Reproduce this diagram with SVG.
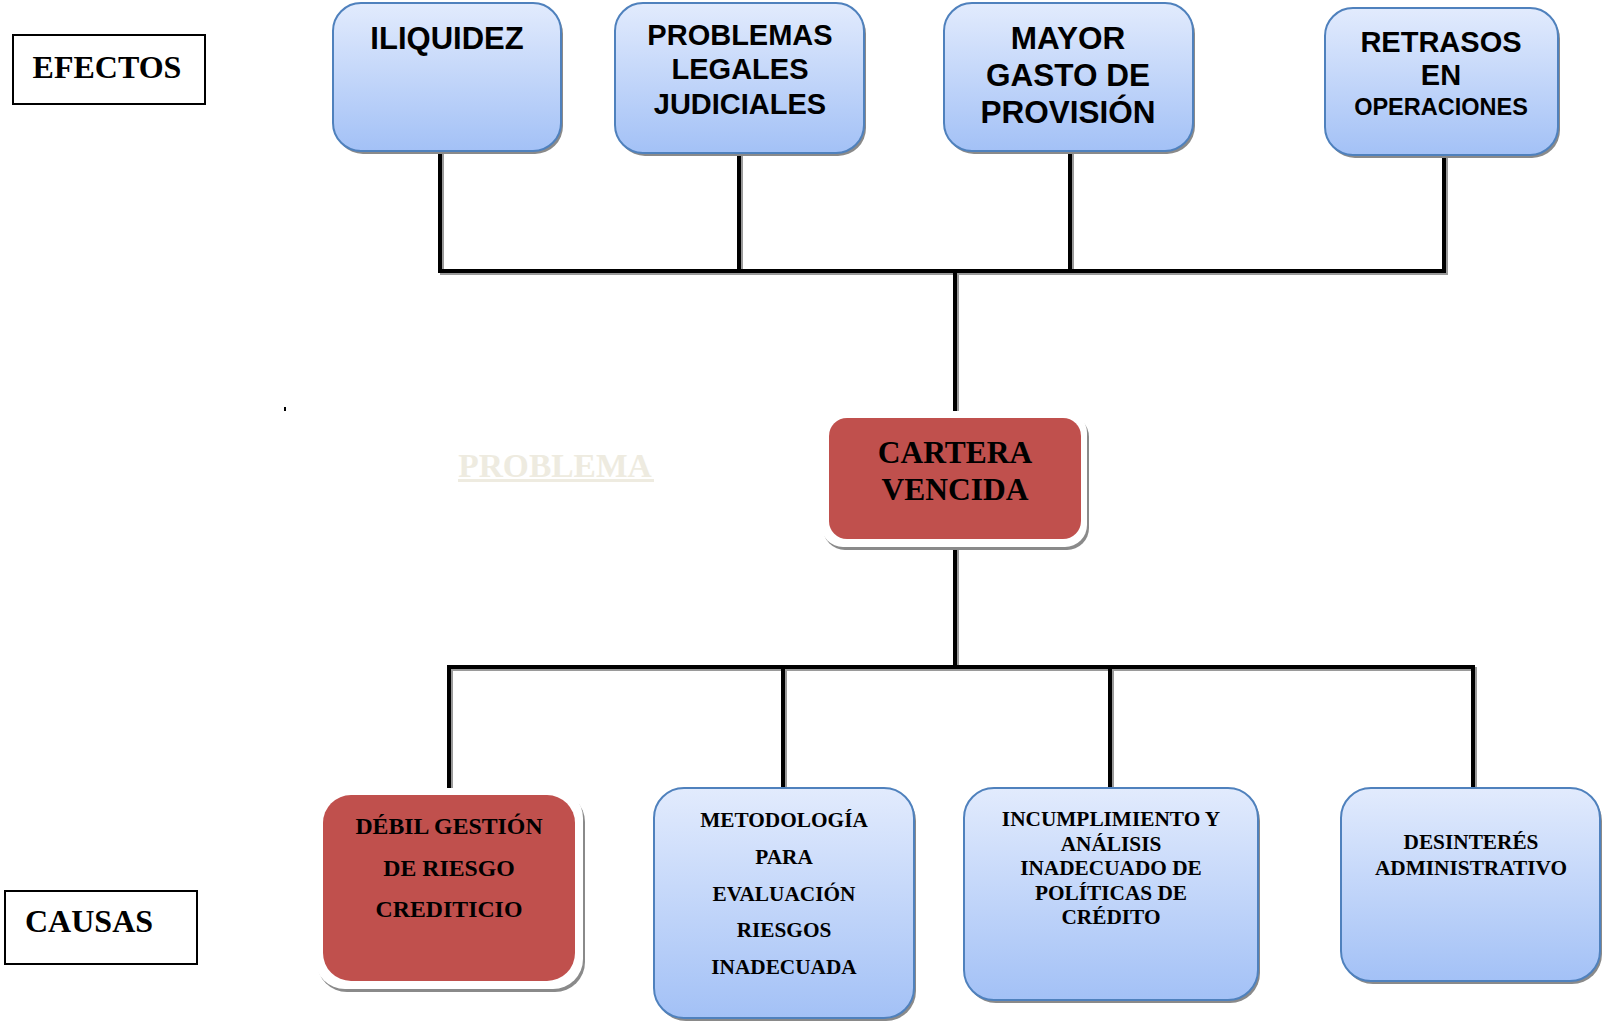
<svg xmlns="http://www.w3.org/2000/svg" width="1605" height="1022" viewBox="0 0 1605 1022">
<defs>
<linearGradient id="blue" x1="0" y1="0" x2="0" y2="1">
<stop offset="0" stop-color="#E2EBFD"/>
<stop offset="1" stop-color="#A3C1F6"/>
</linearGradient>
<style>
.bx{fill:url(#blue);stroke:#4F81BD;stroke-width:2}
.sh{fill:#8a8a8a}
.red{fill:#C0504D}
.wb{fill:#ffffff}
.lbl{fill:#fff;stroke:#000;stroke-width:2}
.ta{font-family:"Liberation Sans",Arial,sans-serif;font-weight:bold;fill:#000;text-anchor:middle}
.tt{font-family:"Liberation Serif","Times New Roman",serif;font-weight:bold;fill:#000;text-anchor:middle}
.ln{stroke:#000;stroke-width:4;fill:none;stroke-linecap:square}
.lns{stroke:#9a9a9a;stroke-width:4;fill:none;stroke-linecap:square}
</style>
</defs>
<rect width="1605" height="1022" fill="#fff"/>

<g id="connectors">
<path class="lns" d="M442 154V273M741 156V273M1072 154V273M1446 158V273M442 273H1446M957 273V420"/>
<path class="ln" d="M440 152V271M739 154V271M1070 152V271M1444 156V271M440 271H1444M955 271V418"/>
<path class="lns" d="M957 550V669M451 669H1475M451 669V797M785 669V790M1112 669V790M1475 669V790"/>
<path class="ln" d="M955 548V667M449 667H1473M449 667V795M783 667V788M1110 667V788M1473 667V788"/>
</g>

<g id="efectos">
<rect class="lbl" x="13" y="35" width="192" height="69"/>
<text class="tt" x="107" y="78" font-size="32">EFECTOS</text>
</g>

<g id="causas">
<rect class="lbl" x="5" y="891" width="192" height="73"/>
<text class="tt" x="25" y="932" font-size="32" style="text-anchor:start">CAUSAS</text>
</g>

<g id="iliquidez">
<rect class="sh" x="335" y="6" width="228" height="148" rx="28"/>
<rect class="bx" x="333" y="3" width="228" height="148" rx="28"/>
<text class="ta" x="447" y="49" font-size="31">ILIQUIDEZ</text>
</g>

<g id="problemas-legales">
<rect class="sh" x="617" y="6" width="249" height="150" rx="28"/>
<rect class="bx" x="615" y="3" width="249" height="150" rx="28"/>
<text class="ta" x="740" y="45" font-size="29">PROBLEMAS</text>
<text class="ta" x="740" y="79" font-size="29">LEGALES</text>
<text class="ta" x="740" y="114" font-size="29">JUDICIALES</text>
</g>

<g id="mayor-gasto">
<rect class="sh" x="946" y="6" width="249" height="148" rx="28"/>
<rect class="bx" x="944" y="3" width="249" height="148" rx="28"/>
<text class="ta" x="1068" y="49" font-size="31.5">MAYOR</text>
<text class="ta" x="1068" y="86" font-size="31.5">GASTO DE</text>
<text class="ta" x="1068" y="123" font-size="31.5">PROVISIÓN</text>
</g>

<g id="retrasos">
<rect class="sh" x="1327" y="11" width="233" height="147" rx="28"/>
<rect class="bx" x="1325" y="8" width="233" height="147" rx="28"/>
<text class="ta" x="1441" y="52" font-size="29">RETRASOS</text>
<text class="ta" x="1441" y="85" font-size="29">EN</text>
<text class="ta" x="1441" y="115" font-size="23.5">OPERACIONES</text>
</g>

<rect x="284" y="407" width="2" height="4" fill="#000"/>
<g id="problema-label">
<text class="tt" x="555" y="477" font-size="33.5" style="fill:#EEEBE0">PROBLEMA</text>
<rect x="458" y="479" width="196" height="3" fill="#EEEBE0"/>
</g>

<g id="cartera-vencida">
<rect class="sh" x="823" y="415" width="266" height="135" rx="22"/>
<rect class="wb" x="821" y="411" width="266" height="136" rx="22"/>
<rect class="red" x="829" y="418" width="252" height="121" rx="18"/>
<text class="tt" x="955" y="463" font-size="31.5">CARTERA</text>
<text class="tt" x="955" y="500" font-size="31.5">VENCIDA</text>
</g>

<g id="debil-gestion">
<rect class="sh" x="317" y="792" width="268" height="200" rx="30"/>
<rect class="wb" x="315" y="788" width="268" height="201" rx="30"/>
<rect class="red" x="323" y="795" width="252" height="186" rx="28"/>
<text class="tt" x="449" y="834" font-size="23.8">DÉBIL GESTIÓN</text>
<text class="tt" x="449" y="876" font-size="23.8">DE RIESGO</text>
<text class="tt" x="449" y="917" font-size="23.8">CREDITICIO</text>
</g>

<g id="metodologia">
<rect class="sh" x="656" y="791" width="260" height="230" rx="30"/>
<rect class="bx" x="654" y="788" width="260" height="230" rx="30"/>
<text class="tt" x="784" y="827" font-size="21.3">METODOLOGÍA</text>
<text class="tt" x="784" y="864" font-size="21.3">PARA</text>
<text class="tt" x="784" y="901" font-size="21.3">EVALUACIÓN</text>
<text class="tt" x="784" y="937" font-size="21.3">RIESGOS</text>
<text class="tt" x="784" y="974" font-size="21.3">INADECUADA</text>
</g>

<g id="incumplimiento">
<rect class="sh" x="966" y="791" width="294" height="212" rx="30"/>
<rect class="bx" x="964" y="788" width="294" height="212" rx="30"/>
<text class="tt" x="1111" y="826" font-size="21.3">INCUMPLIMIENTO Y</text>
<text class="tt" x="1111" y="851" font-size="21.3">ANÁLISIS</text>
<text class="tt" x="1111" y="875" font-size="21.3">INADECUADO DE</text>
<text class="tt" x="1111" y="900" font-size="21.3">POLÍTICAS DE</text>
<text class="tt" x="1111" y="924" font-size="21.3">CRÉDITO</text>
</g>

<g id="desinteres">
<rect class="sh" x="1343" y="791" width="259" height="193" rx="30"/>
<rect class="bx" x="1341" y="788" width="259" height="193" rx="30"/>
<text class="tt" x="1471" y="849" font-size="21.3">DESINTERÉS</text>
<text class="tt" x="1471" y="875" font-size="21.3">ADMINISTRATIVO</text>
</g>
</svg>
